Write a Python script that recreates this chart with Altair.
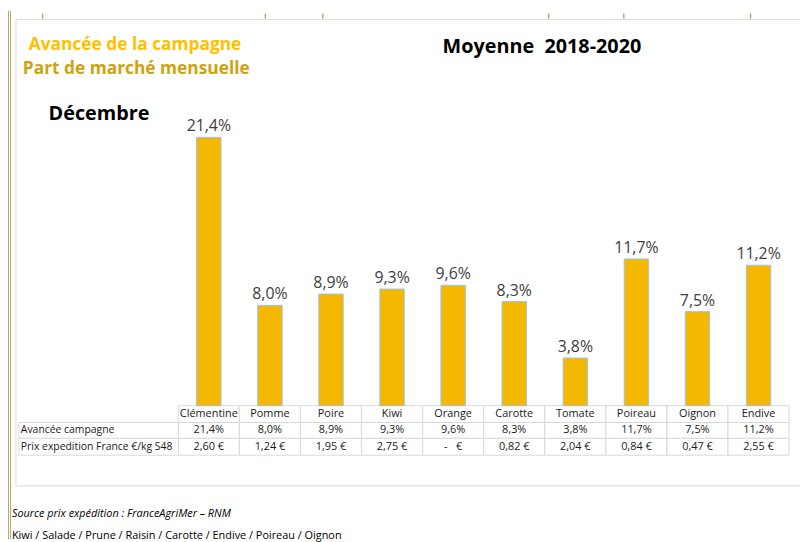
import altair as alt
import pandas as pd

# ---- data ----
cats = ["Clémentine", "Pomme", "Poire", "Kiwi", "Orange", "Carotte", "Tomate", "Poireau", "Oignon", "Endive"]
part = [21.4, 8.0, 8.9, 9.3, 9.6, 8.3, 3.8, 11.7, 7.5, 11.2]
prix = ["2,60 €", "1,24 €", "1,95 €", "2,75 €", "-\u00a0\u00a0 €", "0,82 €", "2,04 €", "0,84 €", "0,47 €", "2,55 €"]
row_labels = ["Avancée campagne", "Prix expedition France €/kg S48"]
title1 = "Avancée de la campagne"
title2 = "Part de marché mensuelle"
title3 = "Moyenne\u00a0 2018-2020"
title4 = "Décembre"
footer1 = "Source prix expédition : FranceAgriMer – RNM"
footer2 = "Kiwi / Salade / Prune / Raisin / Carotte / Endive / Poireau / Oignon"

df = pd.DataFrame({"cat": cats, "part": part, "prix": prix})
df["label"] = [f"{v:.1f}".replace(".", ",") + "%" for v in part]

FONT = "Open Sans"
GRID = "#D9D9D9"
TAN = "#BFA468"

xs = alt.X("cat:N", sort=cats, axis=None,
           scale=alt.Scale(domain=cats, range=[172, 789], paddingInner=0.6, paddingOuter=0.3))
ys = alt.Y("part:Q", axis=None, scale=alt.Scale(domain=[0, 30], range=[399, 19]))

one = pd.DataFrame({"a": [0]})
base1 = alt.Chart(one)
base = alt.Chart(df)

layers = []

# chart frame
layers.append(base1.mark_rect(fill="white", stroke=GRID, strokeWidth=1).encode(
    x=alt.value(8), x2=alt.value(814), y=alt.value(9), y2=alt.value(480)))

# left decorative double line
for xv in [0.5, 2.5]:
    layers.append(base1.mark_rule(color=TAN, strokeWidth=1).encode(
        x=alt.value(xv), y=alt.value(0), y2=alt.value(534)))

# ruler ticks
for xv in [35, 260, 318, 546, 622, 750]:
    layers.append(base1.mark_rule(color=TAN, strokeWidth=1.5).encode(
        x=alt.value(xv), y=alt.value(3), y2=alt.value(8)))

# table cells (category columns)
for (y0, y1) in [(399, 416), (416, 432), (432, 449)]:
    layers.append(base.mark_bar(width=61.7, fill="white", stroke=GRID, strokeWidth=1).encode(
        x=xs, y=alt.value(y0), y2=alt.value(y1)))

# left label cells
rl = pd.DataFrame({"lab": row_labels, "y0": [416, 432], "y1": [432, 449], "yc": [424, 440.5]})
for i in range(2):
    layers.append(alt.Chart(rl.iloc[[i]]).mark_rect(fill="white", stroke=GRID, strokeWidth=1).encode(
        x=alt.value(11), x2=alt.value(172), y=alt.value(float(rl.y0[i])), y2=alt.value(float(rl.y1[i]))))
    layers.append(alt.Chart(rl.iloc[[i]]).mark_text(align="left", baseline="middle", font=FONT,
                                                     fontSize=10.5, color="#1a1a1a").encode(
        x=alt.value(13), y=alt.value(float(rl.yc[i])), text="lab:N"))

# bars
layers.append(base.mark_bar(color="#F5B800", stroke="#9DC3E6", strokeWidth=1).encode(x=xs, y=ys))
# bar labels
layers.append(base.mark_text(dy=-6, baseline="alphabetic", font=FONT, fontSize=16, color="#404040").encode(
    x=xs, y=ys, text="label:N"))

# table texts
for field, yc in [("cat", 407.5), ("label", 424), ("prix", 440.5)]:
    layers.append(base.mark_text(baseline="middle", font=FONT, fontSize=11, color="#1a1a1a").encode(
        x=xs, y=alt.value(yc), text=f"{field}:N"))

# titles
def txt(s, x, y, size, color, weight="normal", style="normal", align="left"):
    return base1.mark_text(align=align, baseline="alphabetic", font=FONT, fontSize=size, color=color,
                           fontWeight=weight, fontStyle=style).encode(
        x=alt.value(x), y=alt.value(y), text=alt.value(s))

layers.append(txt(title1, 21, 40, 17.5, "#FFC000", "bold"))
layers.append(txt(title2, 15, 64, 17.5, "#CFA210", "bold"))
layers.append(txt(title3, 439, 43, 20, "#000000", "bold"))
layers.append(txt(title4, 41, 110, 20, "#000000", "bold"))
layers.append(txt(footer1, 4, 511, 11, "#000000", style="italic"))
layers.append(txt(footer2, 4, 534, 11, "#000000"))

chart = alt.layer(*layers).properties(
    width=800, height=534, autosize=alt.AutoSizeParams(type="none"), padding=0
).configure_view(stroke=None)

chart.save("out.html", embed_options={"renderer": "svg", "actions": False})
